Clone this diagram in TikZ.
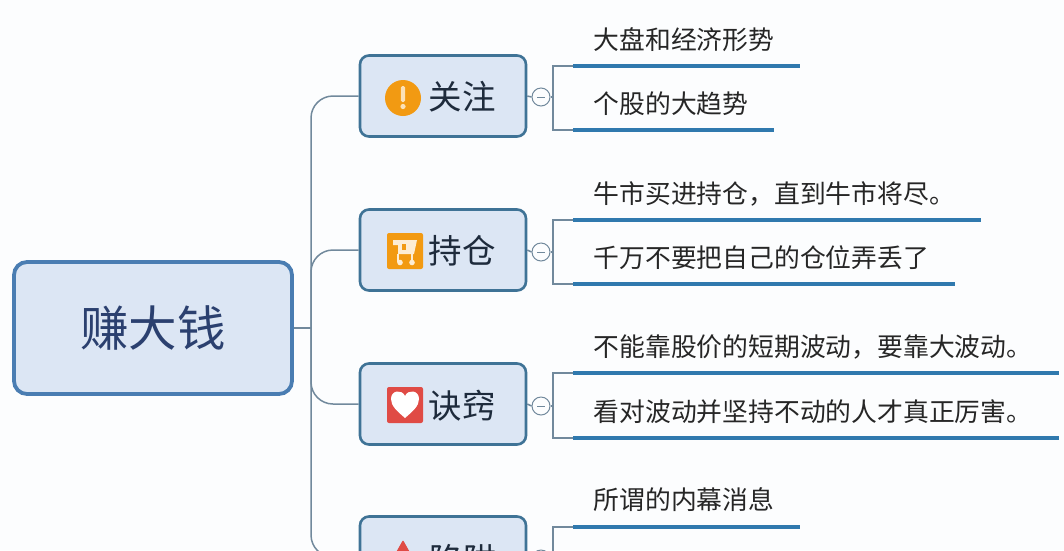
\documentclass[tikz,border=0pt]{standalone}
\usepackage{fontspec}
\setmainfont{Noto Sans CJK SC}[Scale=1]
\definecolor{pagebg}{HTML}{FCFDFE}
\definecolor{boxfill}{HTML}{DCE6F4}
\definecolor{rootedge}{HTML}{4A7DB2}
\definecolor{subedge}{HTML}{3F7396}
\definecolor{thickline}{HTML}{3079AE}
\definecolor{connline}{HTML}{71899C}
\definecolor{roottext}{HTML}{2B406F}
\definecolor{subtext}{HTML}{1E2B3C}
\definecolor{leaftext}{HTML}{262626}
\definecolor{iconorange}{HTML}{F29A12}
\definecolor{iconred}{HTML}{E04B45}
\tikzset{
  rootbox/.style={draw=rootedge,fill=boxfill,line width=3.8pt,rounded corners=13pt,minimum width=278pt,minimum height=132pt,inner sep=0pt,text=roottext,font=\fontsize{48.5}{49}\selectfont},
  subbox/.style={draw=subedge,fill=boxfill,line width=2.6pt,rounded corners=9pt,minimum width=166pt,minimum height=81pt,inner sep=0pt},
  subtitle/.style={inner sep=0pt,text=subtext,font=\fontsize{33.5}{34}\selectfont},
  leaf/.style={inner sep=0pt,anchor=west,text=leaftext,font=\fontsize{25.8}{26}\selectfont},
  conn/.style={draw=connline,line width=1.5pt},
  branchline/.style={conn,rounded corners=22pt},
  bracket/.style={conn,line width=1.3pt},
  heavy/.style={draw=thickline,line width=3.8pt},
  toggle/.style={circle,draw=connline,fill=pagebg,line width=1pt,minimum size=18pt,inner sep=0pt},
  dashmark/.style={draw=connline,line width=1pt},
}
\begin{document}
\begin{tikzpicture}[x=1pt,y=-1pt]
\useasboundingbox (0,0) rectangle (1064,550);
\clip (0,0) rectangle (1064,550);
\fill[pagebg] (0,0) rectangle (1064,550);

% main nodes
\node[rootbox] (root) at (153,328) {赚大钱};
\node[subbox] (guan) at (443,96) {};
\node[subbox] (chi) at (443,250) {};
\node[subbox] (jue) at (443,404) {};
\node[subbox] (xian) at (443,557) {};
\node[subtitle] (guanT) at (462,97) {关注};
\node[subtitle] (chiT) at (462,251) {持仓};
\node[subtitle] (jueT) at (462,406) {诀窍};
\node[subtitle] (xianT) at (463,560) {陷阱};

% trunk
\coordinate (hub) at (311,328);
\draw[conn] (root.east) -- (hub);
\draw[branchline] (hub) |- (guan.west);
\draw[branchline] (hub) |- (chi.west);
\draw[branchline] (hub) |- (jue.west);
\draw[branchline] (hub) |- (xian.west);

% toggles
\node[toggle] (t1) at (541,97) {};
\node[toggle] (t2) at (541,252) {};
\node[toggle] (t3) at (541,406) {};
\node[toggle] (t4) at (541,559) {};
\foreach \t in {t1,t2,t3,t4}{\draw[dashmark] ([xshift=-4pt]\t.center) -- ([xshift=4pt]\t.center);}
\draw[conn] (guan.east) -- (t1.west);
\draw[conn] (chi.east) -- (t2.west);
\draw[conn] (jue.east) -- (t3.west);
\draw[conn] (xian.east) -- (t4.west);

% leaf underlines
\coordinate (a1s) at (573,66);  \coordinate (a1e) at (800,66);
\coordinate (a2s) at (573,130); \coordinate (a2e) at (774,130);
\coordinate (b1s) at (573,220); \coordinate (b1e) at (981,220);
\coordinate (b2s) at (573,284); \coordinate (b2e) at (955,284);
\coordinate (c1s) at (573,373); \coordinate (c1e) at (1059,373);
\coordinate (c2s) at (573,438); \coordinate (c2e) at (1059,438);
\coordinate (d1s) at (573,527); \coordinate (d1e) at (800,527);
\coordinate (d2s) at (573,600);
\coordinate (xa) at (553,97);
\coordinate (xb) at (553,252);
\coordinate (xc) at (553,406);
\coordinate (xd) at (553,559);
\draw[bracket] (a1s) -| (xa) |- (a2s);
\draw[bracket] (b1s) -| (xb) |- (b2s);
\draw[bracket] (c1s) -| (xc) |- (c2s);
\draw[bracket] (d1s) -| (xd) |- (d2s);
\draw[conn] (t1.east) -- (xa);
\draw[conn] (t2.east) -- (xb);
\draw[conn] (t3.east) -- (xc);
\draw[conn] (t4.east) -- (xd);
\draw[heavy] (a1s) -- (a1e);
\draw[heavy] (a2s) -- (a2e);
\draw[heavy] (b1s) -- (b1e);
\draw[heavy] (b2s) -- (b2e);
\draw[heavy] (c1s) -- (c1e);
\draw[heavy] (c2s) -- (c2e);
\draw[heavy] (d1s) -- (d1e);

% leaf texts
\node[leaf] (la1) at (593.5,40) {大盘和经济形势};
\node[leaf] (la2) at (593.5,104) {个股的大趋势};
\node[leaf] (lb1) at (593.5,194) {牛市买进持仓，直到牛市将尽。};
\node[leaf] (lb2) at (593.5,258) {千万不要把自己的仓位弄丢了};
\node[leaf] (lc1) at (593.5,347) {不能靠股价的短期波动，要靠大波动。};
\node[leaf] (lc2) at (593.5,412) {看对波动并坚持不动的人才真正厉害。};
\node[leaf] (ld1) at (593.5,500) {所谓的内幕消息};

% icons
\fill[iconorange] (403,98) circle (18);
\fill[white!70!iconorange,rounded corners=1.5pt] (400.8,86) rectangle (405.2,102);
\fill[white!70!iconorange] (403,106.5) circle (2.6);

\fill[iconorange,rounded corners=2pt] (387,233) rectangle (423,269);
\fill[white!82!iconorange] (393,240) -- (417,240) -- (414,254) -- (398,254) -- (398,245) -- (393,245) -- cycle;
\fill[iconorange] (402,244) rectangle (406,250);
\fill[white!82!iconorange] (400,262.5) circle (2.8);
\fill[white!82!iconorange] (412,262.5) circle (2.8);
\draw[white!82!iconorange,line width=2.4pt] (398,254) -- (398,262);
\draw[white!82!iconorange,line width=2.4pt] (412,254) -- (412,262);

\fill[iconred,rounded corners=2pt] (387,387) rectangle (423,423);
\fill[white] (405,418) .. controls (397,411) and (391,406) .. (391,399)
  .. controls (391,390) and (402,389) .. (405,396)
  .. controls (408,389) and (419,390) .. (419,399)
  .. controls (419,406) and (413,411) .. (405,418) -- cycle;

\fill[iconred,rounded corners=1pt] (403,540) -- (421,572) -- (385,572) -- cycle;
\end{tikzpicture}
\end{document}
